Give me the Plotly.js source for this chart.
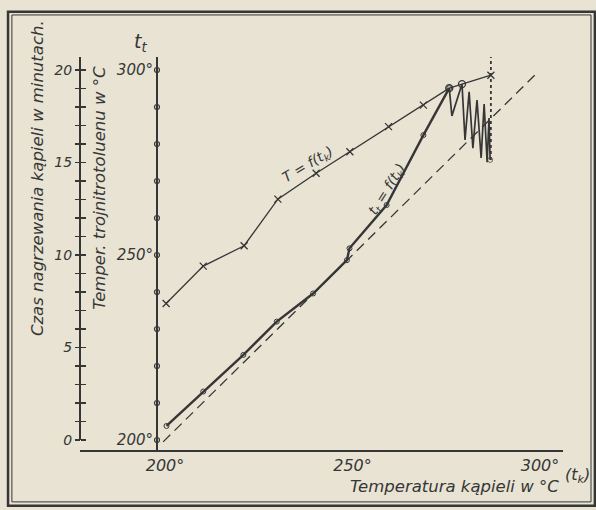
<!DOCTYPE html>
<html>
<head>
<meta charset="utf-8">
<script src="https://cdn.plot.ly/plotly-3.0.1.min.js"></script>
<style>html,body{margin:0;padding:0;background:#e8e3d3;}</style>
</head>
<body>
<div id="chart" style="width:596px;height:510px;"></div>
<script>
// Bath temperature t_k (°C) and trinitrotoluene temperature t_t = f(t_k)
const tkLower = [200.4, 210.2, 220.9, 229.8, 239.5, 248.5, 249.2, 259.1, 268.9, 275.8];
const ttLower = [203.8, 213.1, 223.0, 232.0, 239.6, 248.6, 251.8, 263.5, 282.4, 295.1];
// T = f(t_k)
const tkUpper = [200.3, 210.2, 221.1, 230.1, 240.3, 249.3, 259.6, 268.9, 275.8, 279.2, 286.9];
const TUpper  = [236.9, 247.0, 252.5, 265.1, 272.1, 277.9, 284.7, 290.5, 295.1, 296.2, 298.6];
// oscillation after ignition
const tkZig = [275.8, 276.5, 279.2, 280.0, 281.1, 282.1, 283.2, 284.3, 285.1, 285.9, 286.4, 286.7];
const tZig  = [295.1, 287.6, 296.2, 281.1, 294.1, 278.9, 291.9, 276.2, 290.8, 275.1, 287.0, 275.7];
// vertical arrow (explosion)
const tkArrow = [286.9, 286.9];
const tArrow  = [275.7, 304.6];
// reference line t_t = t_k
const tkDiag = [199.5, 299.5];
const tDiag  = [199.5, 299.5];
// ticks
const tempTicks = [200, 210, 220, 230, 240, 250, 260, 270, 280, 290, 300];
const tempLabelVals = [200, 250, 300];
const tempLabelText = ['200°', '250°', '300°'];
const xTickVals = [200, 250, 300];
const xTickText = ['200°', '250°', '300°'];
const timeLabelVals = [0, 5, 10, 15, 20];
const timeLabelText = ['0', '5', '10', '15', '20'];
const timeTickStep = 1;

const ink = '#363636';
const fam = 'DejaVu Sans';
const fnt = {family: fam, style: 'italic', color: ink};
const xRange = [177.333, 306.133];
const yRange = [197.297, 303.514];
const tRange = [-0.5405, 20.703];
const tempPos = 0.1594;
const tempAxisX = xRange[0] + tempPos * (xRange[1] - xRange[0]);

const data = [
  {x: tkDiag, y: tDiag, mode: 'lines', line: {color: ink, width: 1.3, dash: '10px,6px'}, hoverinfo: 'skip'},
  {x: tkLower, y: ttLower, mode: 'lines+markers', line: {color: ink, width: 2.4},
   marker: {symbol: 'circle-open', size: 5, color: ink, line: {width: 1}}, cliponaxis: false},
  {x: tkUpper, y: TUpper, mode: 'lines+markers', line: {color: ink, width: 1.3},
   marker: {symbol: tkUpper.map((v, i) => i < 8 || i === 10 ? 'x-thin' : 'circle-open'), size: 7, color: ink, line: {width: 1.3, color: ink}}, cliponaxis: false},
  {x: tkZig, y: tZig, mode: 'lines+markers', line: {color: ink, width: 1.7},
   marker: {symbol: 'circle-open', size: tkZig.map((v, i) => i === tkZig.length - 1 ? 5 : 0), color: ink, line: {width: 1}}},
  {x: tkArrow, y: tArrow, mode: 'lines', line: {color: ink, width: 1.8, dash: '3px,3px'}, cliponaxis: false},
  {x: [tkArrow[1]], y: [tArrow[1]], mode: 'markers', marker: {symbol: 'arrow-up-open', size: 8, color: ink, line: {width: 1.5, color: ink}}, cliponaxis: false},
  {x: tempTicks.map(() => tempAxisX), y: tempTicks, mode: 'markers', cliponaxis: false,
   marker: {symbol: 'circle-open', size: 5, color: ink, line: {width: 1.2, color: ink}}},
  {x: [], y: [], yaxis: 'y2', mode: 'lines'},
  {x: [], y: [], yaxis: 'y3', mode: 'lines'}
];

const layout = {
  width: 596, height: 510,
  margin: {l: 80, r: 33, t: 57, b: 60},
  paper_bgcolor: '#e8e3d3', plot_bgcolor: '#e8e3d3',
  showlegend: false,
  font: fnt,
  xaxis: {range: xRange, showgrid: false, zeroline: false, showline: true, linecolor: ink, linewidth: 2,
    tickvals: xTickVals, ticktext: xTickText, ticks: '', tickfont: {family: fam, size: 16, style: 'italic', color: ink}},
  yaxis: {range: yRange, anchor: 'free', position: tempPos, side: 'left', showgrid: false, zeroline: false,
    showline: true, linecolor: ink, linewidth: 2, ticks: '', tickvals: tempLabelVals, ticktext: tempLabelText,
    tickfont: {family: fam, size: 15, style: 'italic', color: ink}},
  yaxis2: {range: tRange, overlaying: 'y', anchor: 'free', position: 0, side: 'left', showgrid: false, zeroline: false,
    showline: false, ticks: 'outside', ticklen: 5, tickwidth: 1.5, tickcolor: ink,
    tickvals: timeLabelVals, ticktext: timeLabelText,
    minor: {ticks: 'outside', dtick: timeTickStep, tick0: 0, ticklen: 5, tickwidth: 1.5, tickcolor: ink, showgrid: false},
    tickfont: {family: fam, size: 14, style: 'italic', color: ink}},
  yaxis3: {range: tRange, overlaying: 'y', anchor: 'free', position: 0, side: 'left', showgrid: false, zeroline: false,
    showline: false, ticks: 'inside', ticklen: 5, tickwidth: 1.5, tickcolor: ink, dtick: timeTickStep, tick0: 0, showticklabels: false},
  shapes: [
    {type: 'line', xref: 'paper', yref: 'y2', x0: 0, x1: 0, y0: 0, y1: tRange[1], line: {color: ink, width: 2}},
    {type: 'rect', xref: 'paper', yref: 'paper', x0: -0.149, x1: 1.066, y0: -0.142, y1: 1.115, line: {color: ink, width: 2.5}},
    {type: 'rect', xref: 'paper', yref: 'paper', x0: -0.141, x1: 1.058, y0: -0.132, y1: 1.107, line: {color: ink, width: 1}}
  ],
  annotations: [
    {text: 'Czas nagrzewania kąpieli w minutach.', xref: 'paper', yref: 'paper', x: -0.089, y: 0.692, textangle: -90,
     xanchor: 'center', yanchor: 'middle', showarrow: false, font: {family: fam, size: 16.5, style: 'italic', color: ink}},
    {text: 'Temper. trojnitrotoluenu w °C', xref: 'paper', yref: 'paper', x: 0.0414, y: 0.667, textangle: -90,
     xanchor: 'center', yanchor: 'middle', showarrow: false, font: {family: fam, size: 16.5, style: 'italic', color: ink}},
    {text: 't<sub>t</sub>', xref: 'paper', yref: 'paper', x: 0.126, y: 1.036, xanchor: 'center', yanchor: 'middle',
     showarrow: false, font: {family: fam, size: 19, style: 'italic', color: ink}},
    {text: 'Temperatura kąpieli w °C', xref: 'paper', yref: 'paper', x: 0.776, y: -0.094, xanchor: 'center', yanchor: 'middle',
     showarrow: false, font: {family: fam, size: 16.5, style: 'italic', color: ink}},
    {text: '(t<sub>k</sub>)', xref: 'paper', yref: 'paper', x: 1.029, y: -0.064, xanchor: 'center', yanchor: 'middle',
     showarrow: false, font: {family: fam, size: 16, style: 'italic', color: ink}},
    {text: 'T = f(t<sub>k</sub>)', x: 238.1, y: 274.3, textangle: -31, showarrow: false, font: {family: fam, size: 14, style: 'italic', color: ink}},
    {text: 't<sub>t</sub> = f(t<sub>k</sub>)', x: 259.2, y: 267.6, textangle: -58, showarrow: false, font: {family: fam, size: 14, style: 'italic', color: ink}}
  ]
};

Plotly.newPlot('chart', data, layout, {displayModeBar: false, staticPlot: true});
</script>
</body>
</html>
